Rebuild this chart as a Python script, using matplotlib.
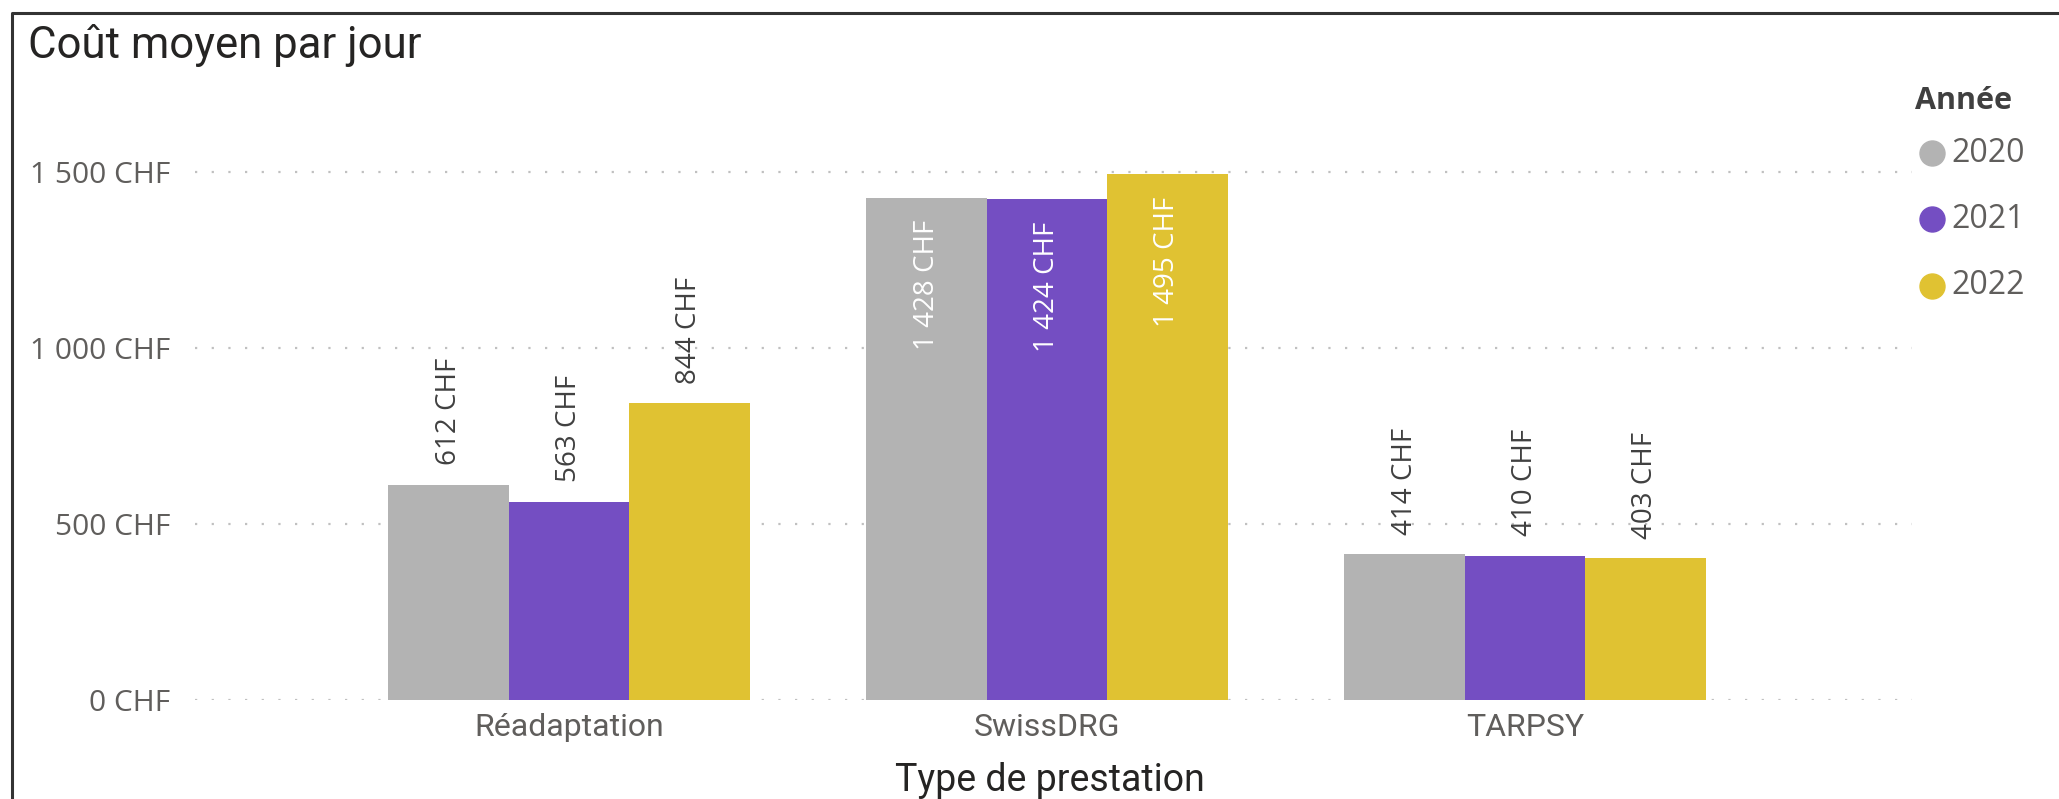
import matplotlib
matplotlib.use("Agg")
import matplotlib.pyplot as plt
from matplotlib import font_manager
from matplotlib.lines import Line2D

# ===================== données =====================
categories = ["Réadaptation", "SwissDRG", "TARPSY"]
years = ["2020", "2021", "2022"]
values_2020 = [612, 1428, 414]
values_2021 = [563, 1424, 410]
values_2022 = [844, 1495, 403]
y_ticks = [0, 500, 1000, 1500]

title_text = "Coût moyen par jour"
x_title = "Type de prestation"
legend_title = "Année"

# ===================== style =====================
COLORS = ["#B3B3B3", "#744EC2", "#E0C232"]
W, H = 2059, 799


def pick_font(names):
    installed = {f.name for f in font_manager.fontManager.ttflist}
    for n in names:
        if n in installed:
            return n
    return "DejaVu Sans"


FONT_UI = pick_font(["Open Sans", "Noto Sans", "DejaVu Sans"])
FONT_DIN = pick_font(["Roboto", "Lato", "DejaVu Sans"])

plt.rcParams["font.family"] = [FONT_UI, "DejaVu Sans"]


def fx(px):
    return px / W


def fy(py):
    return 1 - py / H


def fmt_chf(v):
    s = f"{int(round(v)):,}".replace(",", " ")
    return f"{s} CHF"


fig = plt.figure(figsize=(W / 100, H / 100), dpi=100)
fig.patch.set_facecolor("white")

# zone de tracé en pixels : x 195 -> 1912, y 137 -> 700
ax = fig.add_axes([fx(195), fy(700), fx(1912) - fx(195), fy(137) - fy(700)])

series = [values_2020, values_2021, values_2022]
bar_w = 0.252
offsets = [-bar_w, 0.0, bar_w]
y_max = 1600

for i, vals in enumerate(series):
    xs = [k + offsets[i] for k in range(len(categories))]
    ax.bar(xs, vals, width=bar_w, color=COLORS[i], linewidth=0, zorder=3)
    for x, v in zip(xs, vals):
        if v > 0.8 * y_max:
            # étiquette dans la barre
            ax.annotate(fmt_chf(v), (x, v), xytext=(0, -16), textcoords="offset points",
                        rotation=90, ha="center", va="top", fontsize=20,
                        color="white", zorder=4)
        else:
            ax.annotate(fmt_chf(v), (x, v), xytext=(0, 14), textcoords="offset points",
                        rotation=90, ha="center", va="bottom", fontsize=20,
                        color="#404040", zorder=4)

ax.set_xlim(-0.7824, 2.8096)
ax.set_ylim(0, y_max)

ax.set_yticks(y_ticks)
ax.set_yticklabels([fmt_chf(v) for v in y_ticks], fontsize=21.5, color="#605E5C")
ax.set_xticks(range(len(categories)))
ax.set_xticklabels(categories, fontsize=23, color="#605E5C", family=FONT_DIN)
ax.tick_params(axis="y", length=0, pad=18)
ax.tick_params(axis="x", length=0, pad=9)

ax.grid(axis="y", color="#C0C0C0", linestyle=(0, (1, 6.5)), linewidth=1.6, zorder=0)
for s in ax.spines.values():
    s.set_visible(False)

# titres
fig.text(fx(28), fy(58), title_text, fontsize=31.5, color="#252423",
         family=FONT_DIN, ha="left", va="baseline")
fig.text(fx(1050), fy(791), x_title, fontsize=27, color="#252423",
         family=FONT_DIN, ha="center", va="baseline")

# légende
fig.text(fx(1915), fy(101), legend_title, fontsize=22, fontweight="bold",
         color="#404040", ha="left", va="center")
leg_y = [153, 219, 286]
for i, yr in enumerate(years):
    fig.add_artist(Line2D([fx(1932)], [fy(leg_y[i])], marker="o", markersize=18,
                          color=COLORS[i], linestyle="none", transform=fig.transFigure))
    fig.text(fx(1951), fy(leg_y[i]), yr, fontsize=23, color="#605E5C",
             ha="left", va="center")

# cadre
fig.add_artist(Line2D([fx(12), fx(12), fx(W)], [0, fy(13), fy(13)],
                      color="#333333", linewidth=2.2, transform=fig.transFigure))

fig.savefig("out.png", dpi=100)
